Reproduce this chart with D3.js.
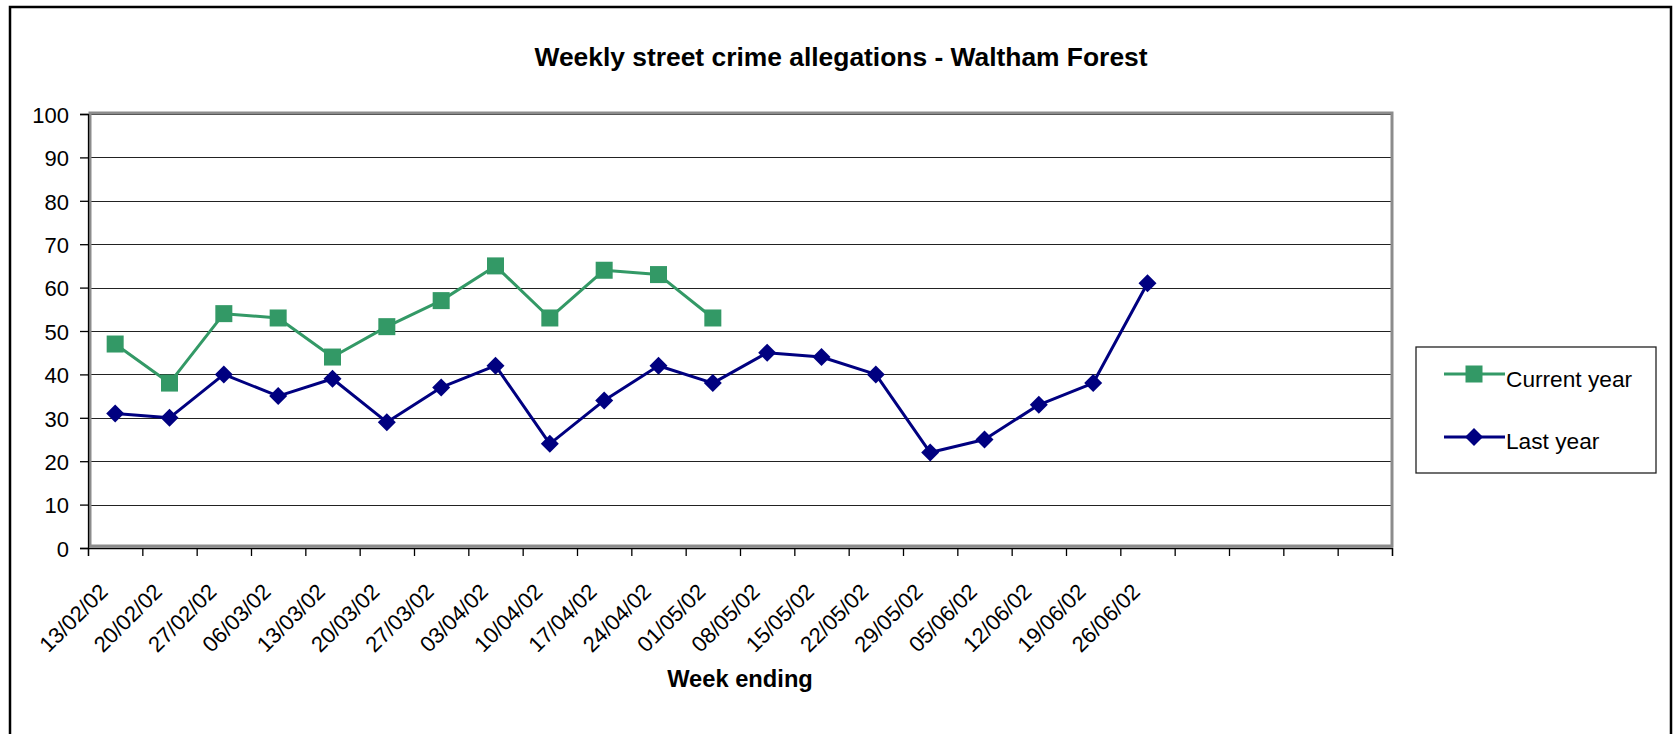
<!DOCTYPE html>
<html>
<head>
<meta charset="utf-8">
<script src="https://cdn.jsdelivr.net/npm/d3@7/dist/d3.min.js"></script>
<style>
  html, body { margin: 0; padding: 0; background: #fff; }
  svg { display: block; }
  text { font-family: "Liberation Sans", Arial, sans-serif; }
</style>
</head>
<body>
<svg id="chart" width="1675" height="734"></svg>
<script>
// ---- data ----
const weekLabels = ["13/02/02","20/02/02","27/02/02","06/03/02","13/03/02","20/03/02","27/03/02",
  "03/04/02","10/04/02","17/04/02","24/04/02","01/05/02","08/05/02","15/05/02","22/05/02",
  "29/05/02","05/06/02","12/06/02","19/06/02","26/06/02","","","",""];
const currentYear = [47,38,54,53,44,51,57,65,53,64,63,53];
const lastYear = [31,30,40,35,39,29,37,42,24,34,42,38,45,44,40,22,25,33,38,61];
const yTicks = [0,10,20,30,40,50,60,70,80,90,100];
const seriesNames = ["Current year","Last year"];
const titleText = "Weekly street crime allegations - Waltham Forest";
const xTitleText = "Week ending";

(function () {
const GREEN = "#339966", NAVY = "#000080";

const svg = d3.select("#chart");

// outer chart border
svg.append("rect").attr("x",10).attr("y",7).attr("width",1661).attr("height",740)
  .attr("fill","none").attr("stroke","#000").attr("stroke-width",2.5);

const pL = 88, pR = 1392, pT = 114, pB = 548;

const x = d3.scaleBand().domain(d3.range(weekLabels.length)).range([pL, pR]).padding(0);
const xEdge = d3.scaleLinear().domain([0, weekLabels.length]).range([pL, pR]);
const y = d3.scaleLinear().domain([0,100]).range([pB, pT]);

// gridlines
svg.append("g").selectAll("line").data(yTicks.filter(d => d > 0)).join("line")
  .attr("x1", pL + 2).attr("x2", pR)
  .attr("y1", d => Math.round(y(d)) + 0.5).attr("y2", d => Math.round(y(d)) + 0.5)
  .attr("stroke", "#222").attr("stroke-width", 1.2);

// plot area border (gray)
svg.append("rect").attr("x", pL + 2).attr("y", pT - 1)
  .attr("width", pR - pL - 2).attr("height", pB - pT - 1)
  .attr("fill","none").attr("stroke","#8c8c8c").attr("stroke-width",3);

// y axis
const yAxis = svg.append("g").attr("transform", `translate(${pL},0)`)
  .call(d3.axisLeft(y).tickValues(yTicks).tickSize(8).tickPadding(11).tickFormat(d3.format("d")));
yAxis.select(".domain").attr("stroke","#000").attr("stroke-width",1.3);
yAxis.selectAll(".tick line").attr("stroke","#000").attr("stroke-width",1.3);
yAxis.selectAll(".tick text").attr("font-size",22).attr("fill","#000")
  .attr("font-family","'Liberation Sans', Arial, sans-serif").attr("dy","0.38em");

// x axis edges (ticks at category boundaries)
const xAxisEdges = svg.append("g").attr("transform", `translate(0,${pB})`)
  .call(d3.axisBottom(xEdge).tickValues(d3.range(weekLabels.length + 1)).tickSize(8).tickFormat(""));
xAxisEdges.select(".domain").attr("stroke","#000").attr("stroke-width",1.3);
xAxisEdges.selectAll(".tick line").attr("stroke","#000").attr("stroke-width",1.3);

// x labels
const xAxis = svg.append("g").attr("transform", `translate(0,${pB})`)
  .call(d3.axisBottom(x).tickSize(0).tickFormat(i => weekLabels[i]));
xAxis.select(".domain").remove();
xAxis.selectAll(".tick text")
  .attr("font-size", 22).attr("fill","#000")
  .attr("font-family","'Liberation Sans', Arial, sans-serif")
  .attr("text-anchor","end")
  .attr("dy", 0).attr("y", 0)
  .attr("transform", "translate(-6,45) rotate(-45)");

// lines
const cx = (d,i) => x(i) + x.bandwidth()/2;
const line = d3.line().x(cx).y(d => y(d));

svg.append("path").datum(lastYear).attr("d", line)
  .attr("fill","none").attr("stroke",NAVY).attr("stroke-width",3).attr("stroke-linejoin","round");
svg.append("path").datum(currentYear).attr("d", line)
  .attr("fill","none").attr("stroke",GREEN).attr("stroke-width",3).attr("stroke-linejoin","round");

const diamond = s => `M0,${-s}L${s},0L0,${s}L${-s},0Z`;

svg.append("g").selectAll("path").data(lastYear).join("path")
  .attr("transform", (d,i) => `translate(${cx(d,i)},${y(d)})`)
  .attr("d", diamond(9)).attr("fill", NAVY);

svg.append("g").selectAll("rect").data(currentYear).join("rect")
  .attr("x", (d,i) => cx(d,i) - 8.5).attr("y", d => y(d) - 8.5)
  .attr("width", 17).attr("height", 17).attr("fill", GREEN);

// title
svg.append("text").attr("x", 841).attr("y", 66).attr("text-anchor","middle")
  .attr("font-size", 26.4).attr("font-weight","bold").text(titleText);

// x axis title
svg.append("text").attr("x", (pL+pR)/2).attr("y", 687).attr("text-anchor","middle")
  .attr("font-size", 23.7).attr("font-weight","bold").text(xTitleText);

// legend
const lg = svg.append("g");
lg.append("rect").attr("x",1416).attr("y",347).attr("width",240).attr("height",126)
  .attr("fill","#fff").attr("stroke","#222").attr("stroke-width",1.3);
const legendRows = [
  {name: seriesNames[0], color: GREEN, shape: "square", ly: 374, ty: 387},
  {name: seriesNames[1], color: NAVY, shape: "diamond", ly: 437, ty: 449}
];
legendRows.forEach(r => {
  lg.append("line").attr("x1",1444).attr("x2",1505).attr("y1",r.ly).attr("y2",r.ly)
    .attr("stroke", r.color).attr("stroke-width",3);
  if (r.shape === "square") {
    lg.append("rect").attr("x",1474-8.5).attr("y",r.ly-8.5).attr("width",17).attr("height",17).attr("fill",r.color);
  } else {
    lg.append("path").attr("transform",`translate(1474,${r.ly})`).attr("d",diamond(9)).attr("fill",r.color);
  }
  lg.append("text").attr("x",1506).attr("y",r.ty).attr("font-size",22.7).attr("fill","#000").text(r.name);
});
})();
</script>
</body>
</html>
